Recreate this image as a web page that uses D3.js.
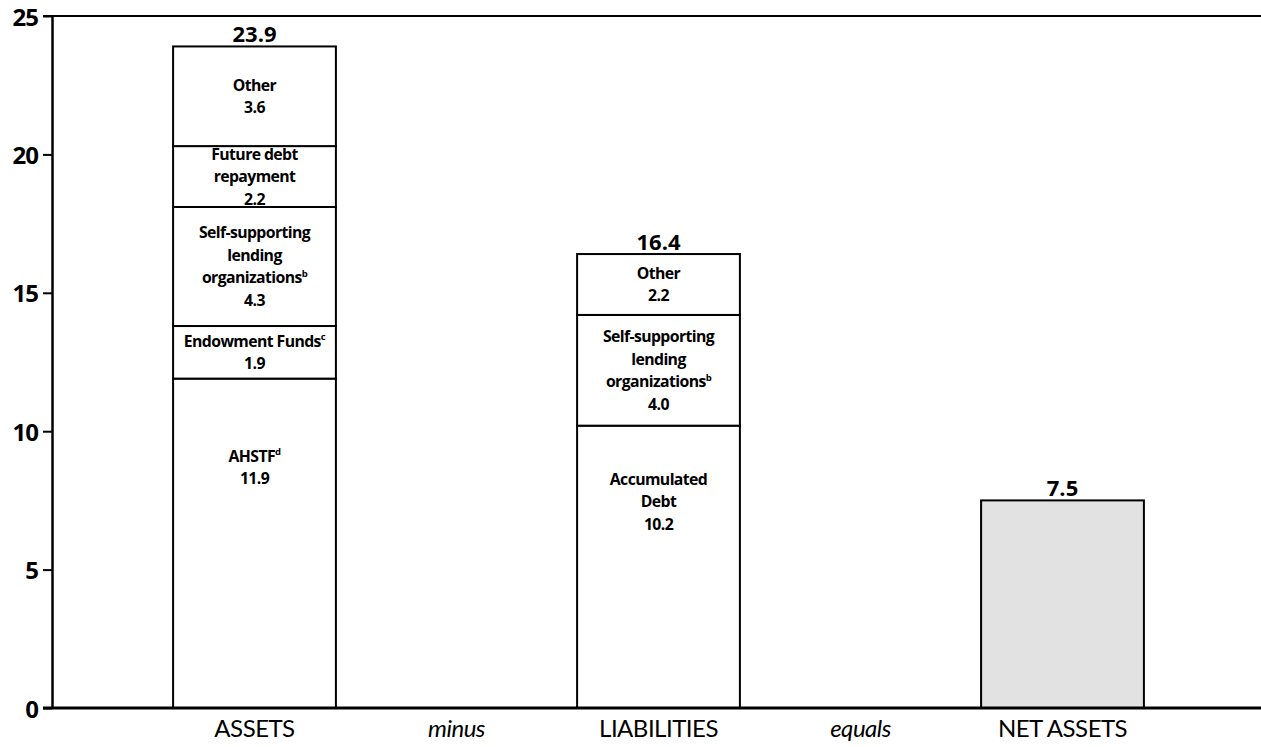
<!DOCTYPE html>
<html>
<head>
<meta charset="utf-8">
<script src="https://cdn.jsdelivr.net/npm/d3@7"></script>
<style>
  html, body { margin: 0; padding: 0; background: #fff; }
  svg { display: block; }
  text { font-family: Lato, "Open Sans", "DejaVu Sans", sans-serif; fill: #000; }
  .bold { font-family: "Open Sans", Lato, "DejaVu Sans", sans-serif; font-weight: 700; }
</style>
</head>
<body>
<svg id="chart" width="1261" height="747"></svg>
<script>
// Categories along the x axis (the operators sit between the bars)
const categories = ["ASSETS", "minus", "LIABILITIES", "equals", "NET ASSETS"];
const operatorCategories = ["minus", "equals"];

// Stacked components, bottom to top ($ billions)
const assetLabels = [["AHSTF"], ["Endowment Funds"], ["Self-supporting", "lending", "organizations"], ["Future debt", "repayment"], ["Other"]];
const assetNotes = ["d", "c", "b", "", ""];
const assetValues = [11.9, 1.9, 4.3, 2.2, 3.6];

const liabilityLabels = [["Accumulated", "Debt"], ["Self-supporting", "lending", "organizations"], ["Other"]];
const liabilityNotes = ["", "b", ""];
const liabilityValues = [10.2, 4.0, 2.2];

const netAssetsValue = 7.5;
const barTotals = [23.9, 16.4, 7.5];

const yTicks = [0, 5, 10, 15, 20, 25];

const svg = d3.select("#chart");
const plotLeft = 52, plotRight = 1261, plotTop = 16, plotBottom = 708;

const y = d3.scaleLinear().domain([0, 25]).range([plotBottom, plotTop]);
const x = d3.scaleBand().domain(categories).range([153.5, 1163.5]).padding(0);
const barW = x.bandwidth() * 0.806;
const barX = c => x(c) + (x.bandwidth() - barW) / 2;

// Frame: top rule runs across the full width
svg.append("line").attr("x1", 43).attr("x2", plotRight).attr("y1", y(25)).attr("y2", y(25))
  .attr("stroke", "#000").attr("stroke-width", 2.2);

// Build stacked segments for one bar
function stack(values, labels, notes) {
  let acc = 0;
  return values.map((v, i) => {
    const d = { y0: acc, y1: acc + v, value: v, lines: labels[i], note: notes[i], base: i === 0 };
    acc += v;
    return d;
  });
}

const bars = [
  { cat: "ASSETS", segs: stack(assetValues, assetLabels, assetNotes), fill: "#fff", total: barTotals[0] },
  { cat: "LIABILITIES", segs: stack(liabilityValues, liabilityLabels, liabilityNotes), fill: "#fff", total: barTotals[1] },
  { cat: "NET ASSETS", segs: [{ y0: 0, y1: netAssetsValue, value: netAssetsValue, lines: null, note: "" }], fill: "#e2e2e2", total: barTotals[2] }
];

const lineH = 22.5;

bars.forEach(b => {
  const g = svg.append("g");
  g.selectAll("rect").data(b.segs).join("rect")
    .attr("x", barX(b.cat))
    .attr("width", barW)
    .attr("y", d => y(d.y1))
    .attr("height", d => y(d.y0) - y(d.y1))
    .attr("fill", b.fill)
    .attr("stroke", "#000")
    .attr("stroke-width", 2);

  const cx = barX(b.cat) + barW / 2;

  b.segs.filter(d => d.lines).forEach(d => {
    const allLines = d.lines.concat([d.value.toFixed(1)]);
    const n = allLines.length;
    // bottom segments carry their label in the upper part of the block
    const centerY = d.base ? y(d.y0 + d.value * 0.73) : (y(d.y0) + y(d.y1)) / 2;
    const firstBase = centerY - ((n - 1) * lineH) / 2 + 5.5;
    const t = g.append("text")
      .attr("class", "bold")
      .attr("text-anchor", "middle")
      .attr("font-size", 15.8)
      .attr("letter-spacing", -0.6);
    allLines.forEach((ln, i) => {
      t.append("tspan").attr("x", cx).attr("y", firstBase + i * lineH).text(ln);
      if (d.note && i === d.lines.length - 1) {
        t.append("tspan").attr("dy", -6.5).attr("font-size", 9.5).text(d.note);
      }
    });
  });

  // total above the bar
  g.append("text")
    .attr("class", "bold")
    .attr("x", cx)
    .attr("y", y(b.total) - 4)
    .attr("text-anchor", "middle")
    .attr("font-size", 22)
    .text(b.total.toFixed(1));
});

// Y axis
const yAxis = svg.append("g")
  .attr("transform", `translate(${plotLeft},0)`)
  .call(d3.axisLeft(y).tickValues(yTicks).tickSize(9).tickSizeOuter(0).tickPadding(5).tickFormat(d3.format("d")));
yAxis.select(".domain").attr("stroke-width", 2.5);
yAxis.selectAll(".tick line").attr("stroke-width", 2);
yAxis.selectAll(".tick text")
  .attr("class", "bold")
  .attr("font-size", 24)
  .attr("font-family", null)
  .attr("dy", "0.38em")
  .attr("letter-spacing", -1)
  .attr("fill", "#000");

// Baseline
svg.append("line").attr("x1", 43).attr("x2", plotRight).attr("y1", y(0)).attr("y2", y(0))
  .attr("stroke", "#000").attr("stroke-width", 3);

// X axis labels
const xAxis = svg.append("g")
  .attr("transform", `translate(0,${plotBottom})`)
  .call(d3.axisBottom(x).tickSize(0).tickPadding(12));
xAxis.select(".domain").remove();
xAxis.selectAll(".tick text")
  .attr("font-size", 24)
  .attr("font-family", "Lato, 'Open Sans', sans-serif")
  .attr("fill", "#000")
  .attr("font-style", d => operatorCategories.includes(d) ? "italic" : "normal")
  .attr("letter-spacing", -0.5);
</script>
</body>
</html>
